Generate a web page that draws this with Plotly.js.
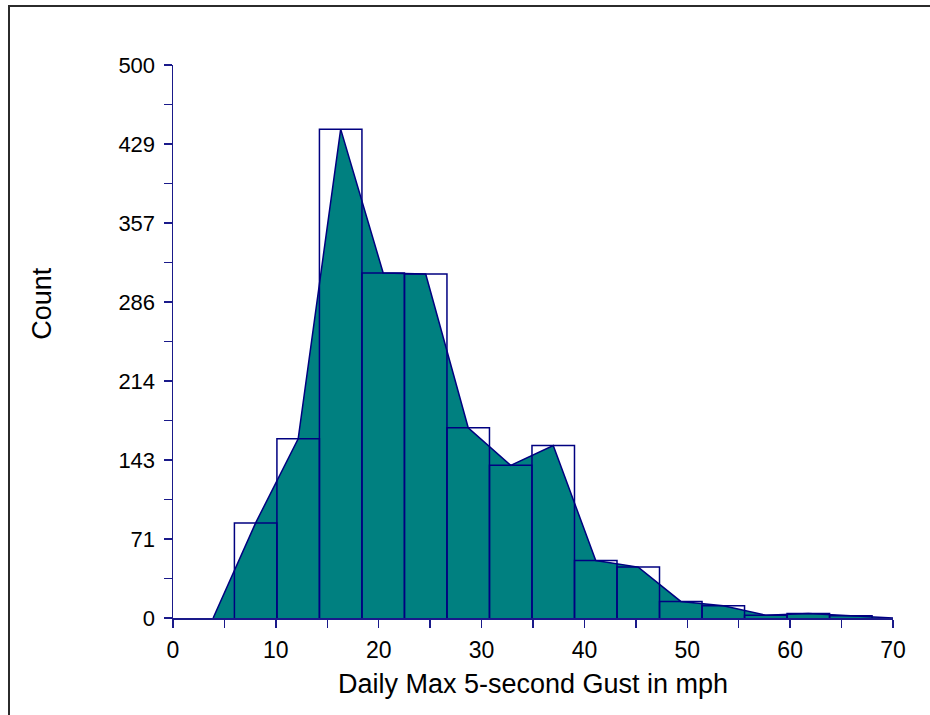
<!DOCTYPE html>
<html>
<head>
<meta charset="utf-8">
<script src="https://cdn.plot.ly/plotly-3.0.1.min.js"></script>
<style>
  html, body { margin: 0; padding: 0; background: #fff; }
  #wrap { position: relative; width: 930px; height: 715px; overflow: hidden; }
  #chart { width: 930px; height: 715px; }
  #frame { position: absolute; left: 8px; top: 5px; width: 940px; height: 730px;
           border-left: 2px solid #2b2b2b; border-top: 2px solid #2b2b2b; pointer-events: none; }
</style>
</head>
<body>
<div id="wrap">
  <div id="chart"></div>
  <div id="frame"></div>
</div>
<script>
// Histogram data
const binStart = 5.97;          // left edge of first bin (mph)
const binWidth = 4.133;         // bin width (mph)
const counts = [86, 162, 442, 312, 311, 172, 138, 156, 52, 46, 15, 11, 2.5, 4, 2];

const yTickVals = [0, 500/7, 1000/7, 1500/7, 2000/7, 2500/7, 3000/7, 500];
const yTickText = ["0", "71", "143", "214", "286", "357", "429", "500"];

const xTitle = "Daily Max 5-second Gust in mph";
const yTitle = "Count";

const teal = "#008080";
const navy = "#000080";
const axisColor = "#1a1a8a";
const fontFam = "'Liberation Sans', Arial, sans-serif";

// bin geometry
const edges = counts.map((_, i) => binStart + i * binWidth);
const centers = edges.map(e => e + binWidth / 2);

// frequency polygon
const polyX = [binStart - binWidth / 2, ...centers, binStart + counts.length * binWidth + binWidth / 2];
const polyY = [0, ...counts, 0];

// bar outlines
const barX = [], barY = [];
counts.forEach((c, i) => {
  const x0 = edges[i], x1 = edges[i] + binWidth;
  barX.push(x0, x0, x1, x1, null);
  barY.push(0, c, c, 0, null);
});

const traces = [
  { type: "scatter", mode: "lines", x: polyX, y: polyY, fill: "tozeroy",
    fillcolor: teal, line: { color: navy, width: 1.5 }, hoverinfo: "skip", cliponaxis: false },
  { type: "scatter", mode: "lines", x: barX, y: barY,
    line: { color: navy, width: 1.5 }, hoverinfo: "skip", connectgaps: false }
];

const layout = {
  width: 930, height: 715,
  margin: { l: 173, r: 37, t: 65, b: 97 },
  paper_bgcolor: "#fff", plot_bgcolor: "#fff",
  showlegend: false,
  font: { family: fontFam, color: "#000", size: 22 },
  xaxis: {
    range: [0, 70], tick0: 0, dtick: 10, tickmode: "linear",
    showgrid: false, zeroline: false,
    showline: true, linecolor: axisColor, linewidth: 1.5,
    ticks: "outside", ticklen: 8, tickwidth: 1.5, tickcolor: axisColor,
    minor: { tick0: 0, dtick: 5, ticks: "outside", ticklen: 8, tickwidth: 1.5, tickcolor: axisColor, showgrid: false },
    tickfont: { family: fontFam, size: 23, color: "#000" },
    ticklabelstandoff: 3,
    title: { text: xTitle, font: { family: fontFam, size: 27, color: "#000" }, standoff: 12 }
  },
  yaxis: {
    range: [0, 500], tickmode: "array", tickvals: yTickVals, ticktext: yTickText,
    showgrid: false, zeroline: false,
    showline: true, linecolor: axisColor, linewidth: 1.5,
    ticks: "outside", ticklen: 8, tickwidth: 1.5, tickcolor: axisColor,
    minor: { tick0: 0, dtick: 250/7, ticks: "outside", ticklen: 8, tickwidth: 1.5, tickcolor: axisColor, showgrid: false },
    tickfont: { family: fontFam, size: 22, color: "#000" },
    ticklabelstandoff: 4
  },
  annotations: [
    { text: yTitle, xref: "paper", yref: "paper", x: -0.182, y: 0.57, xanchor: "center", yanchor: "middle",
      textangle: -90, showarrow: false, font: { family: fontFam, size: 27, color: "#000" } }
  ]
};

Plotly.newPlot("chart", traces, layout, { displayModeBar: false, staticPlot: true });
</script>
</body>
</html>
